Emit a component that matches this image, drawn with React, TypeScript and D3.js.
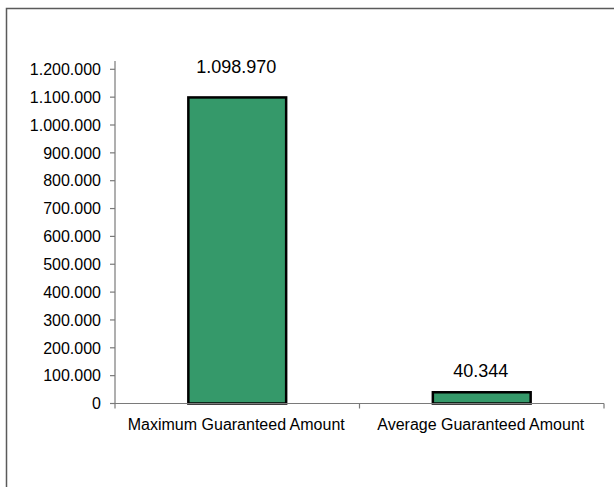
import React from "react";
import * as d3 from "d3";

const categories = ["Maximum Guaranteed Amount", "Average Guaranteed Amount"];
const values = [1098970, 40344];
const labels = ["1.098.970", "40.344"];
const yTicks = [0, 100000, 200000, 300000, 400000, 500000, 600000, 700000, 800000, 900000, 1000000, 1100000, 1200000];

const W = 614;
const H = 487;
const plot = { left: 115, right: 604, top: 61, bottom: 404 };

const fmt = (v: number) => {
  if (v === 0) return "0";
  return d3.format(",")(v).replace(/,/g, ".");
};

export default function App() {
  const x = d3.scaleBand<string>().domain(categories).range([plot.left, plot.right]).paddingInner(0).paddingOuter(0);
  const y = d3.scaleLinear().domain([0, 1200000]).range([403.5, 69.3]);
  const barW = x.bandwidth() * 0.4;
  const font = "'Liberation Sans', Arial, sans-serif";
  const top = y(1200000);
  return (
    <div style={{ position: "absolute", left: 0, top: 0 }}>
      <svg width={W} height={H} style={{ display: "block", background: "#fff" }}>
        <rect x={6.5} y={8.5} width={W} height={H} fill="#fff" stroke="#5a5a5a" strokeWidth={1.5} />
        {/* bars */}
        {categories.map((c, i) => {
          const cx = (x(c) as number) + x.bandwidth() / 2;
          return (
            <rect
              key={c}
              x={cx - barW / 2}
              y={y(values[i])}
              width={barW}
              height={y(0) - y(values[i])}
              fill="#35996A"
              stroke="#000"
              strokeWidth={2.5}
            />
          );
        })}
        {/* y axis */}
        <line x1={plot.left} x2={plot.left} y1={plot.top} y2={y(0)} stroke="#7a7a7a" strokeWidth={1.2} />
        {yTicks.map((t) => (
          <g key={t}>
            <line x1={plot.left - 5} x2={plot.left} y1={y(t)} y2={y(t)} stroke="#7a7a7a" strokeWidth={1.2} />
            <text x={plot.left - 14} y={y(t)} dy="0.36em" textAnchor="end" fontFamily={font} fontSize={16} fill="#000">
              {fmt(t)}
            </text>
          </g>
        ))}
        {/* x axis */}
        <line x1={plot.left} x2={plot.right} y1={y(0)} y2={y(0)} stroke="#7a7a7a" strokeWidth={1.2} />
        {[plot.left, ...categories.map((c) => (x(c) as number) + x.bandwidth())].map((tx, i) => (
          <line key={i} x1={tx} x2={tx} y1={y(0)} y2={y(0) + 5} stroke="#7a7a7a" strokeWidth={1.2} />
        ))}
        {categories.map((c) => (
          <text
            key={c}
            x={(x(c) as number) + x.bandwidth() / 2 - 1}
            y={y(0) + 26}
            textAnchor="middle"
            fontFamily={font}
            fontSize={16}
            fill="#000"
          >
            {c}
          </text>
        ))}
        {/* data labels */}
        {categories.map((c, i) => {
          const by = y(values[i]);
          const ly = by - 15 < top + 20 ? top + 4 : by - 15;
          return (
            <text
              key={c}
              x={(x(c) as number) + x.bandwidth() / 2 - 1}
              y={ly}
              textAnchor="middle"
              fontFamily={font}
              fontSize={18}
              fill="#000"
            >
              {labels[i]}
            </text>
          );
        })}
      </svg>
    </div>
  );
}
